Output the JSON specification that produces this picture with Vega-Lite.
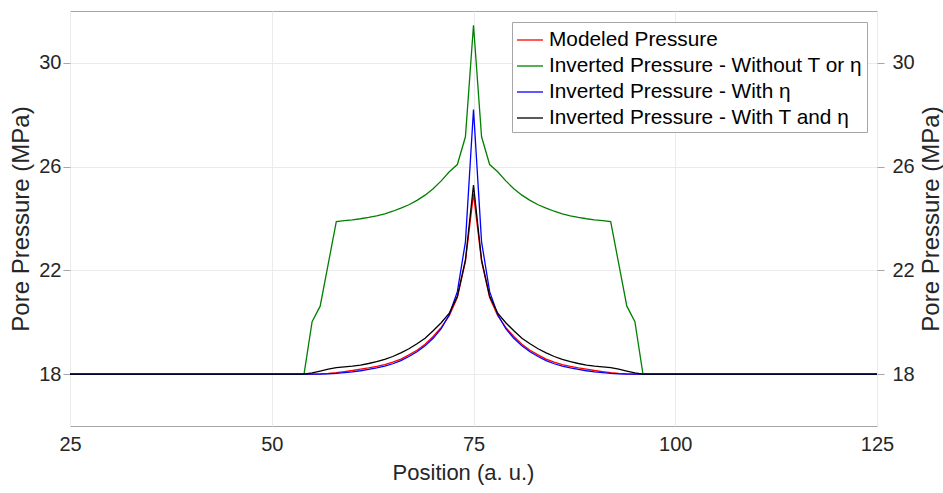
{
  "$schema": "https://vega.github.io/schema/vega-lite/v6.json",
  "width": 807,
  "height": 415,
  "autosize": {"type": "none"},
  "padding": {"left": 70, "top": 11, "right": 66, "bottom": 67},
  "background": "white",
  "config": {
    "font": "Liberation Sans",
    "view": {"stroke": "#a6a6a6", "strokeWidth": 1},
    "axis": {
      "domain": false,
      "grid": true,
      "gridColor": "#ebebeb",
      "gridWidth": 1,
      "tickColor": "#a6a6a6",
      "tickSize": 7,
      "labelFontSize": 20,
      "labelColor": "#262626",
      "labelFlush": false,
      "titleFontSize": 22,
      "titleFontWeight": "normal",
      "titleColor": "#262626",
      "labelFont": "Liberation Sans",
      "titleFont": "Liberation Sans"
    },
    "legend": {
      "labelFont": "Liberation Sans"
    }
  },
  "data": {
    "values": [
      {"x": 25, "m": 18, "g": 18, "b": 18, "k": 18},
      {"x": 50, "m": 18, "g": 18, "b": 18, "k": 18},
      {"x": 53, "m": 18, "g": 18, "b": 18, "k": 18},
      {"x": 54, "m": 18, "g": 18, "b": 18, "k": 18},
      {"x": 55, "m": 18.0, "g": 20.02, "b": 18.0, "k": 18.05},
      {"x": 56, "m": 18.01, "g": 20.62, "b": 18.0, "k": 18.12},
      {"x": 57, "m": 18.03, "g": 22.25, "b": 18.01, "k": 18.19},
      {"x": 58, "m": 18.06, "g": 23.88, "b": 18.03, "k": 18.25},
      {"x": 59, "m": 18.1, "g": 23.92, "b": 18.06, "k": 18.28},
      {"x": 60, "m": 18.14, "g": 23.95, "b": 18.09, "k": 18.31},
      {"x": 61, "m": 18.19, "g": 23.99, "b": 18.13, "k": 18.35},
      {"x": 62, "m": 18.24, "g": 24.04, "b": 18.18, "k": 18.41},
      {"x": 63, "m": 18.3, "g": 24.1, "b": 18.24, "k": 18.48},
      {"x": 64, "m": 18.37, "g": 24.18, "b": 18.31, "k": 18.57},
      {"x": 65, "m": 18.46, "g": 24.28, "b": 18.4, "k": 18.68},
      {"x": 66, "m": 18.58, "g": 24.4, "b": 18.52, "k": 18.82},
      {"x": 67, "m": 18.74, "g": 24.53, "b": 18.68, "k": 18.98},
      {"x": 68, "m": 18.92, "g": 24.7, "b": 18.86, "k": 19.17},
      {"x": 69, "m": 19.15, "g": 24.9, "b": 19.09, "k": 19.38},
      {"x": 70, "m": 19.45, "g": 25.15, "b": 19.38, "k": 19.67},
      {"x": 71, "m": 19.8, "g": 25.45, "b": 19.75, "k": 19.98},
      {"x": 72, "m": 20.25, "g": 25.8, "b": 20.3, "k": 20.35},
      {"x": 73, "m": 20.95, "g": 26.08, "b": 21.18, "k": 21.0},
      {"x": 74, "m": 22.35, "g": 27.15, "b": 23.1, "k": 22.4},
      {"x": 75, "m": 24.95, "g": 31.45, "b": 28.2, "k": 25.29},
      {"x": 76, "m": 22.35, "g": 27.15, "b": 23.1, "k": 22.4},
      {"x": 77, "m": 20.95, "g": 26.08, "b": 21.18, "k": 21.0},
      {"x": 78, "m": 20.25, "g": 25.8, "b": 20.3, "k": 20.35},
      {"x": 79, "m": 19.8, "g": 25.45, "b": 19.75, "k": 19.98},
      {"x": 80, "m": 19.45, "g": 25.15, "b": 19.38, "k": 19.67},
      {"x": 81, "m": 19.15, "g": 24.9, "b": 19.09, "k": 19.38},
      {"x": 82, "m": 18.92, "g": 24.7, "b": 18.86, "k": 19.17},
      {"x": 83, "m": 18.74, "g": 24.53, "b": 18.68, "k": 18.98},
      {"x": 84, "m": 18.58, "g": 24.4, "b": 18.52, "k": 18.82},
      {"x": 85, "m": 18.46, "g": 24.28, "b": 18.4, "k": 18.68},
      {"x": 86, "m": 18.37, "g": 24.18, "b": 18.31, "k": 18.57},
      {"x": 87, "m": 18.3, "g": 24.1, "b": 18.24, "k": 18.48},
      {"x": 88, "m": 18.24, "g": 24.04, "b": 18.18, "k": 18.41},
      {"x": 89, "m": 18.19, "g": 23.99, "b": 18.13, "k": 18.35},
      {"x": 90, "m": 18.14, "g": 23.95, "b": 18.09, "k": 18.31},
      {"x": 91, "m": 18.1, "g": 23.92, "b": 18.06, "k": 18.28},
      {"x": 92, "m": 18.06, "g": 23.88, "b": 18.03, "k": 18.25},
      {"x": 93, "m": 18.03, "g": 22.25, "b": 18.01, "k": 18.19},
      {"x": 94, "m": 18.01, "g": 20.62, "b": 18.0, "k": 18.12},
      {"x": 95, "m": 18.0, "g": 20.02, "b": 18.0, "k": 18.05},
      {"x": 96, "m": 18, "g": 18, "b": 18, "k": 18},
      {"x": 97, "m": 18, "g": 18, "b": 18, "k": 18},
      {"x": 100, "m": 18, "g": 18, "b": 18, "k": 18},
      {"x": 125, "m": 18, "g": 18, "b": 18, "k": 18}
    ]
  },
  "transform": [{"fold": ["m", "g", "b", "k"], "as": ["s", "v"]}],
  "layer": [
    {
      "mark": {"type": "line", "strokeWidth": 1.3},
      "encoding": {
        "x": {
          "field": "x", "type": "quantitative",
          "scale": {"domain": [25, 125], "nice": false, "zero": false},
          "axis": {"values": [25, 50, 75, 100, 125], "title": "Position (a. u.)", "ticks": false, "labelPadding": 8, "titlePadding": 8, "titleX": 393}
        },
        "y": {
          "field": "v", "type": "quantitative",
          "scale": {"domain": [16, 32], "nice": false, "zero": false},
          "axis": {"values": [18, 22, 26, 30], "title": "Pore Pressure (MPa)", "titleFontSize": 24, "orient": "left", "labelPadding": 2, "titlePadding": 5}
        },
        "color": {
          "field": "s", "type": "nominal",
          "scale": {"domain": ["m", "g", "b", "k"], "range": ["#ff0000", "#008000", "#0000ff", "#000000"]},
          "legend": {
            "orient": "none", "legendX": 442, "legendY": 11, "title": null,
            "labelExpr": "datum.label == 'm' ? 'Modeled Pressure' : datum.label == 'g' ? 'Inverted Pressure - Without T or η' : datum.label == 'b' ? 'Inverted Pressure - With η' : 'Inverted Pressure - With T and η'",
            "labelFontSize": 20.8, "labelColor": "#000000", "labelOffset": 5, "labelLimit": 0,
            "symbolType": "stroke", "symbolSize": 676, "symbolStrokeWidth": 1.3,
            "fillColor": "white", "strokeColor": "#a6a6a6", "padding": 4, "rowPadding": 2
          }
        }
      }
    },
    {
      "mark": {"type": "line", "strokeOpacity": 0},
      "encoding": {
        "x": {"field": "x", "type": "quantitative", "scale": {"domain": [25, 125], "nice": false, "zero": false}},
        "y": {
          "field": "v", "type": "quantitative",
          "scale": {"domain": [16, 32], "nice": false, "zero": false},
          "axis": {"values": [18, 22, 26, 30], "title": "Pore Pressure (MPa)", "titleFontSize": 24, "orient": "right", "grid": false, "labelPadding": 8, "titlePadding": 5, "titleAngle": 270, "titleBaseline": "top"}
        }
      }
    }
  ],
  "resolve": {"axis": {"y": "independent"}}
}
